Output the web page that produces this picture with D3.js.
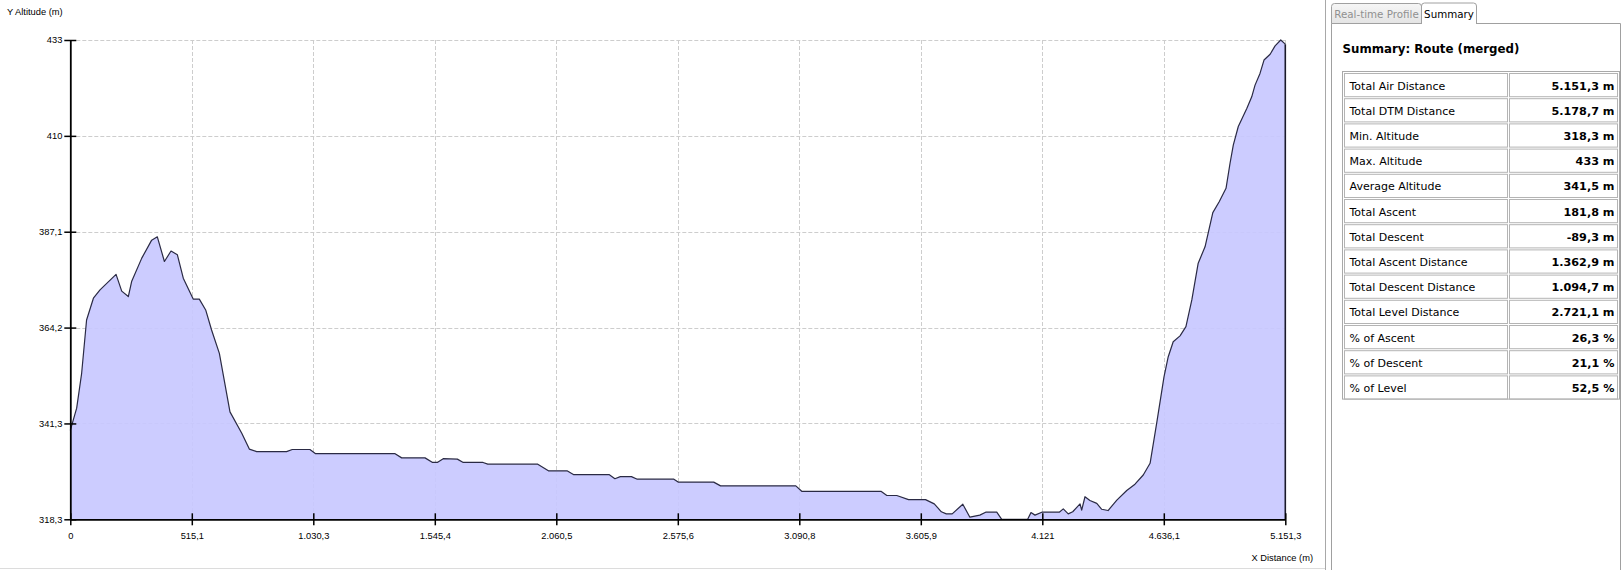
<!DOCTYPE html>
<html><head><meta charset="utf-8">
<script src="https://cdn.jsdelivr.net/npm/d3@7"></script>
<style>html,body{margin:0;padding:0;background:#fff;overflow:hidden} svg{display:block}</style>
</head><body>
<svg id="c" width="1623" height="570"></svg>
<script>
// ---- Profile data (distance m, altitude m) ----
const distances = [0,27,48,69,98,126,194,218,246,260,303,345,369,399,427,454,479,521,547,574,599,632,677,727,759,790,917,941,1016,1040,1377,1405,1504,1536,1556,1581,1641,1666,1750,1770,1982,2027,2106,2133,2284,2309,2332,2379,2404,2559,2577,2728,2757,3076,3101,3437,3462,3504,3554,3626,3663,3693,3714,3739,3784,3814,3856,3881,3928,3949,4059,4073,4090,4119,4193,4210,4231,4250,4281,4288,4302,4323,4352,4373,4400,4437,4479,4514,4549,4578,4606,4637,4655,4676,4705,4730,4755,4782,4811,4844,4871,4900,4917,4931,4952,4988,5009,5023,5044,5061,5087,5108,5132,5151.3];
const altitudes = [339.6,344.9,353.2,366.0,371.2,373.2,376.9,372.9,371.6,375.2,380.8,385.1,385.9,380.0,382.5,381.6,376.0,371.0,371.0,368.4,363.6,358.0,344.0,338.9,335.1,334.5,334.5,335.0,335.0,334.0,334.0,333.0,333.0,331.9,331.9,332.8,332.7,331.9,331.9,331.5,331.5,329.9,329.9,329.0,329.0,328.0,328.5,328.5,327.9,327.9,327.2,327.2,326.3,326.3,325.0,325.0,324.0,324.0,323.0,323.0,322.0,320.1,319.6,319.6,321.9,318.8,319.3,320.0,320.0,318.3,318.3,319.9,319.3,320.0,320.0,320.8,319.6,320.1,322.0,320.5,323.7,322.8,322.1,320.7,320.4,322.9,325.2,326.7,328.9,331.7,341.3,352.4,357.2,360.8,362.2,364.4,370.8,379.6,383.5,391.7,394.3,397.5,403.5,407.9,412.3,416.6,419.4,422.2,425.0,428.2,429.6,431.6,433.0,432.0];

const xDomain = [0, 5151.3];
const yDomain = [318.3, 433];
const xTickLabels = ["0","515,1","1.030,3","1.545,4","2.060,5","2.575,6","3.090,8","3.605,9","4.121","4.636,1","5.151,3"];
const yTickLabels = ["318,3","341,3","364,2","387,1","410","433"];

const xAxisTitle = "X Distance (m)";
const yAxisTitle = "Y Altitude (m)";

// ---- Summary panel ----
const tabLabels = ["Real-time Profile","Summary"];
const summaryTitle = "Summary: Route (merged)";
const summaryLabels = ["Total Air Distance","Total DTM Distance","Min. Altitude","Max. Altitude","Average Altitude","Total Ascent","Total Descent","Total Ascent Distance","Total Descent Distance","Total Level Distance","% of Ascent","% of Descent","% of Level"];
const summaryValues = ["5.151,3 m","5.178,7 m","318,3 m","433 m","341,5 m","181,8 m","-89,3 m","1.362,9 m","1.094,7 m","2.721,1 m","26,3 %","21,1 %","52,5 %"];

const svg = d3.select("#c");
const axisFont = "'Liberation Sans', Arial, sans-serif";
const panelFont = "'DejaVu Sans', Verdana, sans-serif";

const L = 70.3, R = 1285.3, T = 40, B = 519.3;
const x = d3.scaleLinear().domain(xDomain).range([L, R]);
const y = d3.scaleLinear().domain(yDomain).range([B, T]);

const xTickVals = xTickLabels.map((_, i) => xDomain[0] + i * (xDomain[1] - xDomain[0]) / (xTickLabels.length - 1));
const yTickVals = yTickLabels.map((_, i) => yDomain[0] + i * (yDomain[1] - yDomain[0]) / (yTickLabels.length - 1));

const data = distances.map((d, i) => ({d, a: altitudes[i]}));

// grid
const grid = svg.append("g").attr("stroke", "#cdcdcd").attr("stroke-width", 1).attr("stroke-dasharray", "4,2");
grid.selectAll("line.v").data(xTickVals.slice(1)).enter().append("line")
  .attr("x1", d => Math.round(x(d)) + 0.5).attr("x2", d => Math.round(x(d)) + 0.5)
  .attr("y1", y(yDomain[1])).attr("y2", y(yDomain[0]));
grid.selectAll("line.h").data(yTickVals.slice(1)).enter().append("line")
  .attr("x1", x(xDomain[0])).attr("x2", x(xDomain[1]))
  .attr("y1", d => Math.round(y(d)) + 0.5).attr("y2", d => Math.round(y(d)) + 0.5);

// area
const area = d3.area().x(p => x(p.d)).y0(y(yDomain[0])).y1(p => y(p.a));
svg.append("path").datum(data).attr("d", area).attr("fill", "rgb(200,200,255)").attr("fill-opacity", 0.92);
const line = d3.line().x(p => x(p.d)).y(p => y(p.a));
svg.append("path").datum(data).attr("d", line).attr("fill", "none").attr("stroke", "#2a2a44").attr("stroke-width", 1.2).attr("stroke-linejoin", "round");
const last = data[data.length - 1];
svg.append("path").datum([last, {d: last.d, a: yDomain[0]}]).attr("d", line)
  .attr("fill", "none").attr("stroke", "#1a1a2a").attr("stroke-width", 1.6);

// axes
const xAxis = d3.axisBottom(x).tickValues(xTickVals).tickFormat((d, i) => xTickLabels[i]).tickSizeInner(6).tickSizeOuter(0).tickPadding(7);
const gx = svg.append("g").attr("transform", `translate(0,${B})`).call(xAxis);
gx.selectAll(".tick line").attr("y1", -6).attr("stroke", "#000").attr("stroke-width", 1.5);
gx.select(".domain").attr("stroke", "#000").attr("stroke-width", 1.8);
gx.selectAll("text").attr("font-family", axisFont).attr("font-size", 9.3).attr("fill", "#000");

const yAxis = d3.axisLeft(y).tickValues(yTickVals).tickFormat((d, i) => yTickLabels[i]).tickSizeInner(6).tickSizeOuter(0).tickPadding(2);
const gy = svg.append("g").attr("transform", `translate(${L},0)`).call(yAxis);
gy.selectAll(".tick line").attr("x1", 6).attr("stroke", "#000").attr("stroke-width", 1.5);
gy.select(".domain").attr("stroke", "#000").attr("stroke-width", 1.8);
gy.selectAll("text").attr("font-family", axisFont).attr("font-size", 9.3).attr("fill", "#000");

svg.append("text").attr("x", 7).attr("y", 15).text(yAxisTitle)
  .attr("font-family", axisFont).attr("font-size", 9.3).attr("fill", "#000");
svg.append("text").attr("x", 1313).attr("y", 561).attr("text-anchor", "end").text(xAxisTitle)
  .attr("font-family", axisFont).attr("font-size", 9.3).attr("fill", "#000");

// bottom border of chart container
svg.append("line").attr("x1", 0).attr("x2", 1325).attr("y1", 568.5).attr("y2", 568.5).attr("stroke", "#dcdcdc");

// ---- panel ----
const P = svg.append("g");
P.append("line").attr("x1", 1325.5).attr("x2", 1325.5).attr("y1", 0).attr("y2", 570).attr("stroke", "#a8a8a8");
P.append("path").attr("d", "M1331.5,570 V23.5 H1620.5 V570").attr("fill", "#fff").attr("stroke", "#a0a0a0");
const tabGrad = svg.append("defs").append("linearGradient").attr("id", "tg").attr("x1", 0).attr("x2", 0).attr("y1", 0).attr("y2", 1);
tabGrad.append("stop").attr("offset", 0).attr("stop-color", "#f6f6f6");
tabGrad.append("stop").attr("offset", 1).attr("stop-color", "#e4e4e4");
P.append("path").attr("d", "M1331.5,23.5 V6.5 Q1331.5,3.5 1334.5,3.5 H1418.5 Q1421.5,3.5 1421.5,6.5 V23.5 Z")
  .attr("fill", "url(#tg)").attr("stroke", "#a0a0a0");
P.append("path").attr("d", "M1421.5,24 V6 Q1421.5,3 1424.5,3 H1473.5 Q1476.5,3 1476.5,6 V24")
  .attr("fill", "#fff").attr("stroke", "#a0a0a0");
P.append("line").attr("x1", 1422).attr("x2", 1476).attr("y1", 23.5).attr("y2", 23.5).attr("stroke", "#fff").attr("stroke-width", 1.5);
P.append("text").attr("x", 1376.5).attr("y", 17.5).attr("text-anchor", "middle").text(tabLabels[0])
  .attr("font-family", panelFont).attr("font-size", 10.3).attr("fill", "#909090");
P.append("text").attr("x", 1449).attr("y", 17.5).attr("text-anchor", "middle").text(tabLabels[1])
  .attr("font-family", panelFont).attr("font-size", 10.3).attr("fill", "#000");

P.append("text").attr("x", 1342.5).attr("y", 52.5).text(summaryTitle)
  .attr("font-family", panelFont).attr("font-weight", "bold").attr("font-size", 11.8).attr("fill", "#000");

// table
const tL = 1342.5, tR = 1619.5, tT = 71.5, rowH = 25.2, colX = 1508.5;
const rows = d3.range(summaryLabels.length);
const tb = P.append("g");
tb.append("rect").attr("x", tL).attr("y", tT).attr("width", tR - tL).attr("height", rowH * rows.length)
  .attr("fill", "#fff").attr("stroke", "#a9a9a9");
tb.selectAll("rect.c1").data(rows).enter().append("rect")
  .attr("x", tL + 2).attr("y", i => tT + i * rowH + 2).attr("width", colX - tL - 3).attr("height", rowH - 2)
  .attr("fill", "none").attr("stroke", "#b4b4b4");
tb.selectAll("rect.c2").data(rows).enter().append("rect")
  .attr("x", colX + 1).attr("y", i => tT + i * rowH + 2).attr("width", tR - colX - 3).attr("height", rowH - 2)
  .attr("fill", "none").attr("stroke", "#b4b4b4");
tb.selectAll("text.l").data(rows).enter().append("text")
  .attr("x", tL + 7).attr("y", i => tT + i * rowH + rowH / 2 + 5.5)
  .text(i => summaryLabels[i]).attr("font-family", panelFont).attr("font-size", 11).attr("fill", "#000");
tb.selectAll("text.v").data(rows).enter().append("text")
  .attr("x", tR - 5).attr("y", i => tT + i * rowH + rowH / 2 + 5.5).attr("text-anchor", "end")
  .text(i => summaryValues[i]).attr("font-family", panelFont).attr("font-weight", "bold").attr("font-size", 11.2).attr("fill", "#000");
</script>
</body></html>
